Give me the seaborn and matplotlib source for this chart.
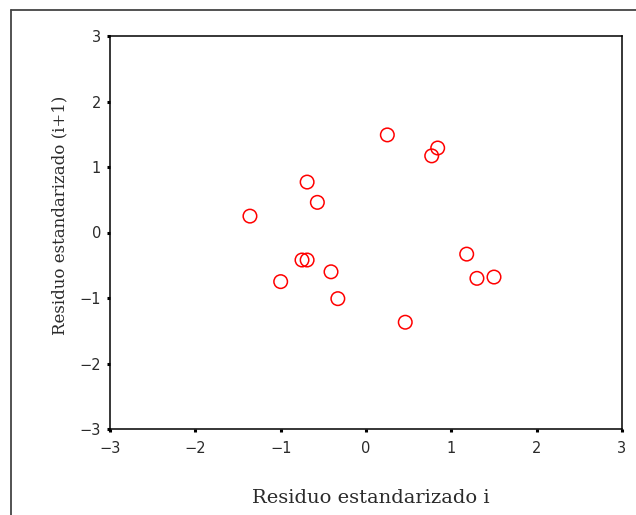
import matplotlib
matplotlib.use("Agg")
import matplotlib.pyplot as plt
from matplotlib.lines import Line2D
import seaborn as sns
import pandas as pd

# Standardized residuals: residual i against residual i+1
resid_i = [0.25, 0.84, 0.77, -0.69, -0.57, -1.36, 1.18,
           -0.75, -0.69, -0.41, 1.30, 1.50, -1.00, -0.33, 0.46]
resid_next = [1.49, 1.29, 1.17, 0.77, 0.46, 0.25, -0.33,
              -0.42, -0.42, -0.60, -0.70, -0.68, -0.75, -1.01, -1.37]

ticks = [-3, -2, -1, 0, 1, 2, 3]
tick_labels = ["\u22123", "\u22122", "\u22121", "0", "1", "2", "3"]

df = pd.DataFrame({"x": resid_i, "y": resid_next})

sns.set_style("white")
fig = plt.figure(figsize=(6.36, 5.15), dpi=100)
ax = fig.add_axes([110 / 636, 1 - 429 / 515, 512 / 636, 393 / 515])

sns.scatterplot(data=df, x="x", y="y", ax=ax, marker="o", s=95,
                facecolors="none", edgecolor="#ff0000", linewidth=1.1)

ax.set_xlim(-3, 3)
ax.set_ylim(-3, 3)
ax.set_xticks(ticks)
ax.set_yticks(ticks)
ax.set_xticklabels(tick_labels)
ax.set_yticklabels(tick_labels)
ax.tick_params(axis="both", which="major", bottom=True, left=True,
               direction="out", length=2.5, width=2.2,
               color="black", labelsize=10.5, labelcolor="#2a2a2a")
ax.tick_params(axis="x", pad=6)
ax.tick_params(axis="y", pad=4)
for side in ["left", "bottom", "top", "right"]:
    ax.spines[side].set_color("black")
    ax.spines[side].set_linewidth(1.1)
for lbl in ax.get_xticklabels() + ax.get_yticklabels():
    lbl.set_fontfamily("DejaVu Sans")
ax.set_xlabel("")
ax.set_ylabel("")

# Axis titles
fig.text(371 / 636, 1 - 498 / 515, "Residuo estandarizado i",
         ha="center", va="center", fontsize=14,
         family="DejaVu Serif", color="#2a2a2a")
fig.text(60 / 636, 1 - 215 / 515, "Residuo estandarizado (i+1)",
         ha="center", va="center", rotation=90, fontsize=12,
         family="DejaVu Serif", color="#2a2a2a")

# Outer frame (top and left edges)
frame_kw = dict(color="#444444", linewidth=1.3, transform=fig.transFigure)
fig.add_artist(Line2D([11 / 636, 1], [1 - 10 / 515, 1 - 10 / 515], **frame_kw))
fig.add_artist(Line2D([11 / 636, 11 / 636], [0, 1 - 10 / 515], **frame_kw))

fig.savefig("out.png", dpi=100)
